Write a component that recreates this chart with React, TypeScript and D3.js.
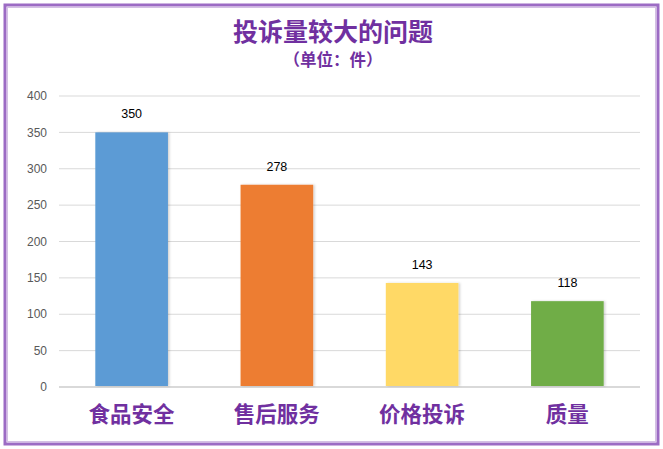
import * as d3 from "d3";

const categories = ["食品安全", "售后服务", "价格投诉", "质量"];
const values = [350, 278, 143, 118];
const barColors = ["#5B9BD5", "#ED7D31", "#FFD966", "#70AD47"];
const yTicks = [0, 50, 100, 150, 200, 250, 300, 350, 400];

const width = 663;
const height = 449;
const marginLeft = 59;
const marginRight = 23;
const marginTop = 96;
const marginBottom = 62;

export default function App() {
  const x = d3
    .scaleBand<string>()
    .domain(categories)
    .range([marginLeft, width - marginRight])
    .paddingInner(0.5)
    .paddingOuter(0.25);

  const y = d3
    .scaleLinear()
    .domain([0, 400])
    .range([height - marginBottom, marginTop]);

  const cjk = "'Noto Sans CJK SC', sans-serif";
  const purple = "#7030A0";

  return (
    <svg
      width={width}
      height={height}
      style={{ position: "absolute", left: 0, top: 0, background: "#fff" }}
    >
      <defs>
        <filter id="shadow" x="-10%" y="-10%" width="130%" height="130%">
          <feDropShadow dx="1.5" dy="0" stdDeviation="1" floodColor="#000" floodOpacity="0.18" />
        </filter>
      </defs>

      {/* frame */}
      <rect x={5} y={5} width={width - 10} height={height - 10} fill="none" stroke="#9C6BC4" strokeWidth={3} />
      <rect x={7.5} y={7.5} width={width - 15} height={height - 15} fill="none" stroke="#D4C0E4" strokeWidth={1} />

      {/* title */}
      <text x={333} y={41} textAnchor="middle" fontFamily={cjk} fontWeight="bold" fontSize={25} fill={purple}>
        投诉量较大的问题
      </text>
      <text x={333} y={66} textAnchor="middle" fontFamily={cjk} fontWeight="bold" fontSize={16.5} fill={purple}>
        （单位：件）
      </text>

      {/* gridlines */}
      {yTicks.map((t) => (
        <line
          key={t}
          x1={marginLeft}
          x2={width - marginRight}
          y1={y(t)}
          y2={y(t)}
          stroke="#D9D9D9"
          strokeWidth={t === 0 ? 2 : 1}
        />
      ))}

      {/* y tick labels */}
      {yTicks.map((t) => (
        <text
          key={t}
          x={47}
          y={y(t)}
          dy="0.35em"
          textAnchor="end"
          fontFamily="'Liberation Sans', Arial, sans-serif"
          fontSize={12}
          fill="#595959"
        >
          {t}
        </text>
      ))}

      {/* bars */}
      {categories.map((c, i) => (
        <rect
          key={c}
          x={x(c)}
          y={y(values[i])}
          width={x.bandwidth()}
          height={y(0) - y(values[i]) - 1}
          fill={barColors[i]}
          filter="url(#shadow)"
        />
      ))}

      {/* value labels */}
      {categories.map((c, i) => (
        <text
          key={c}
          x={(x(c) ?? 0) + x.bandwidth() / 2}
          y={y(values[i]) - 14}
          textAnchor="middle"
          fontFamily="'Liberation Sans', Arial, sans-serif"
          fontSize={12.5}
          fill="#000"
        >
          {values[i]}
        </text>
      ))}

      {/* category labels */}
      {categories.map((c) => (
        <text
          key={c}
          x={(x(c) ?? 0) + x.bandwidth() / 2}
          y={422}
          textAnchor="middle"
          fontFamily={cjk}
          fontWeight="bold"
          fontSize={21.5}
          fill={purple}
        >
          {c}
        </text>
      ))}
    </svg>
  );
}
